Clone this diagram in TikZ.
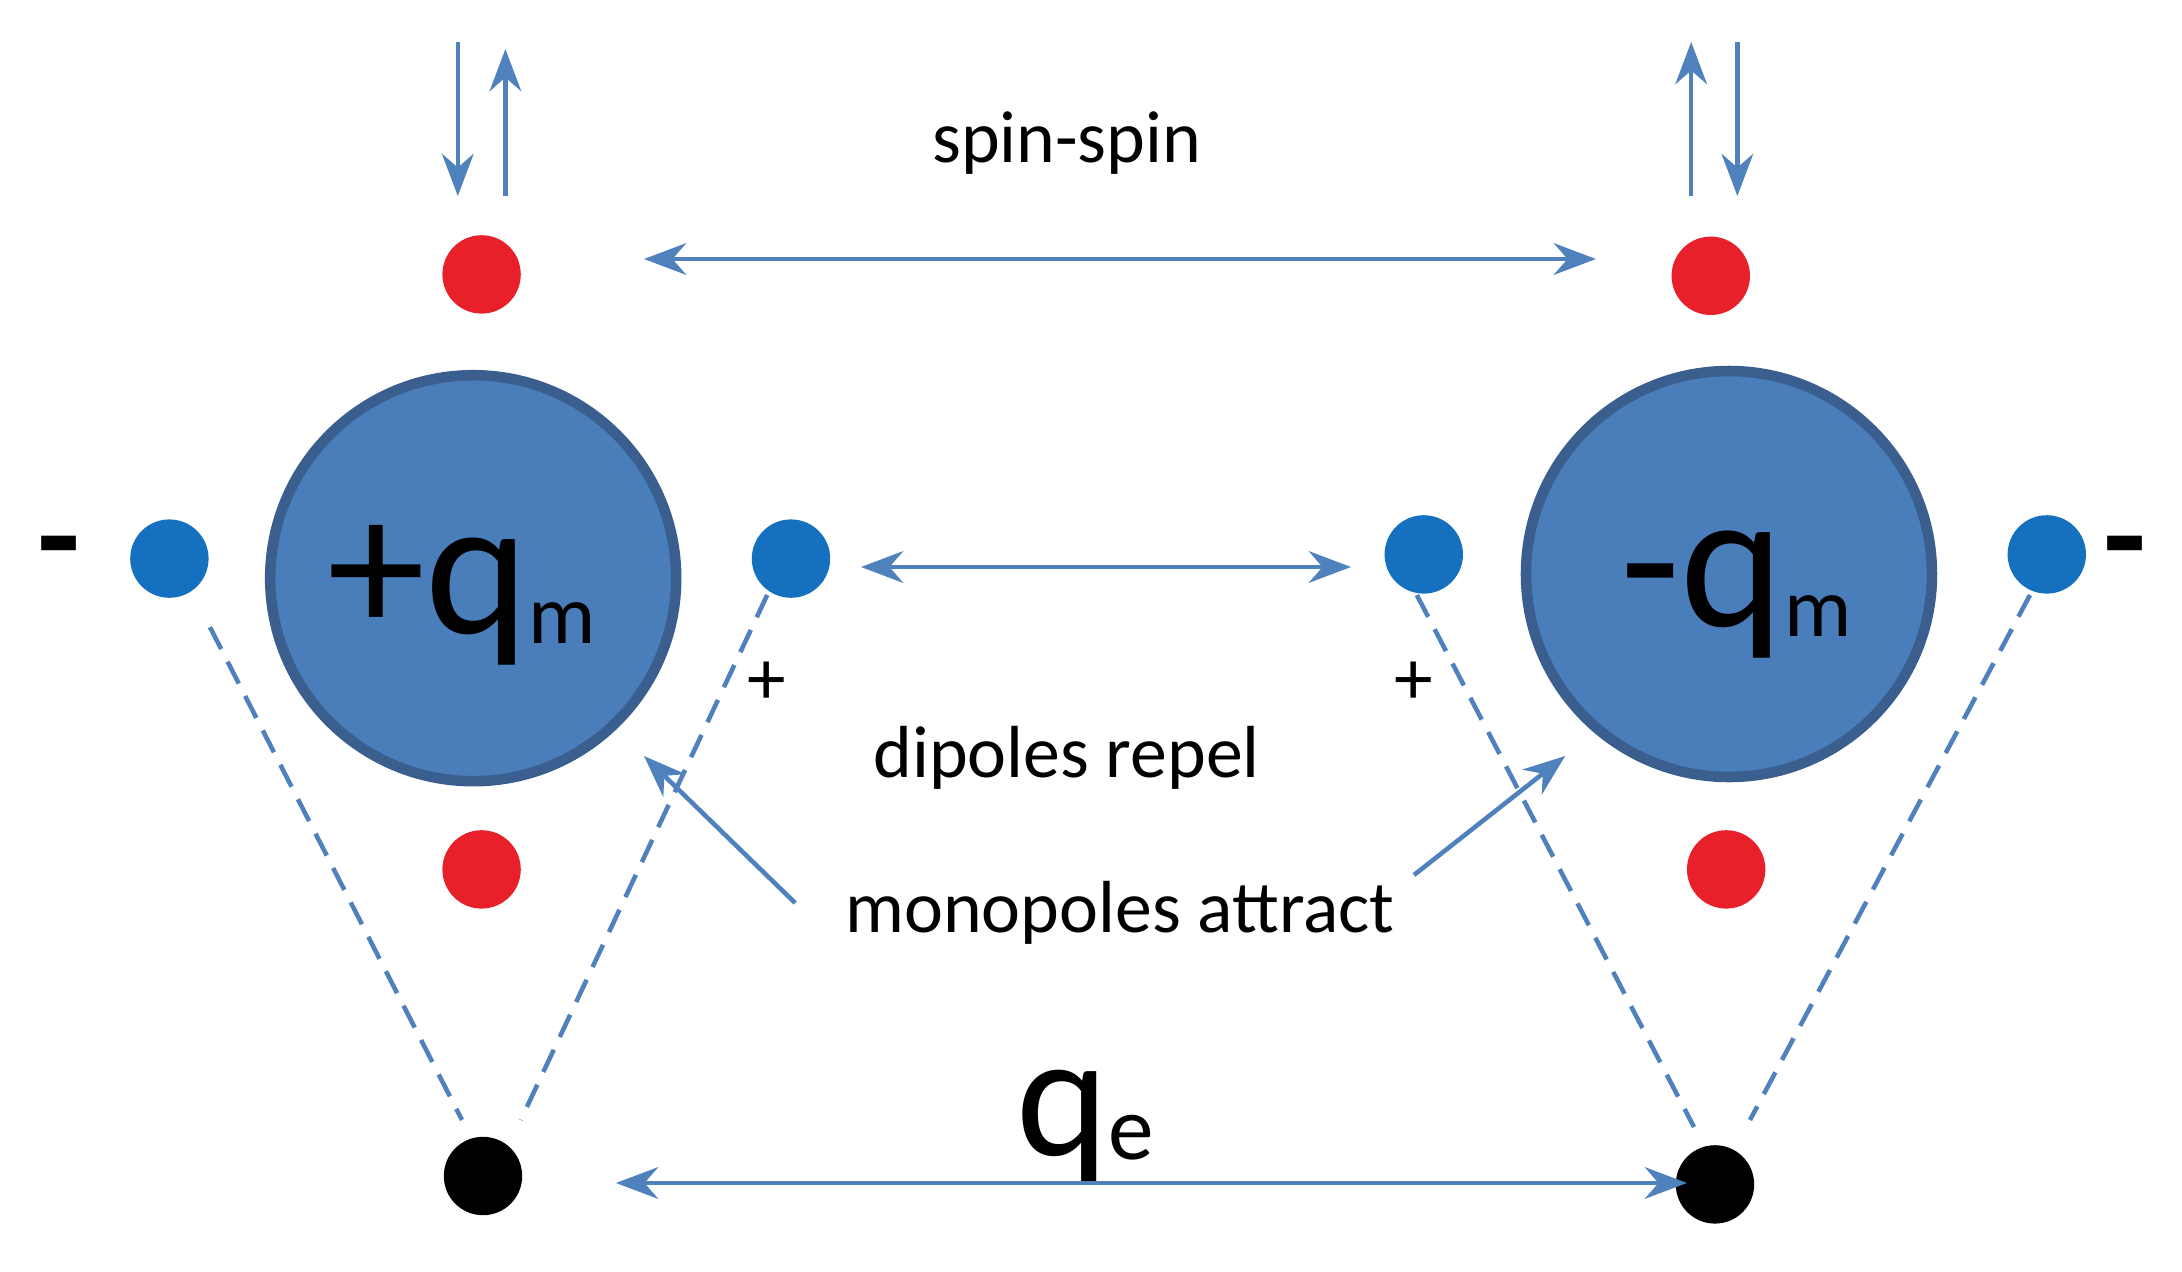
\documentclass[tikz,border=0pt]{standalone}
\usepackage{fontspec}
\setmainfont{Carlito}
\usetikzlibrary{arrows.meta}
\definecolor{bigc}{HTML}{4A7EBB}
\definecolor{bigb}{HTML}{3A5F8F}
\definecolor{ln}{HTML}{4F81BD}
\definecolor{rd}{HTML}{E8202A}
\definecolor{bl}{HTML}{1570C0}
\begin{document}
\begin{tikzpicture}[x=0.014cm,y=-0.014cm,
 big/.style={circle,fill=bigc,draw=bigb,line width=3pt,minimum size=290*0.014cm,inner sep=0},
 dot/.style={circle,fill=#1,minimum size=56*0.014cm,inner sep=0},
 arr/.style={draw=ln,line width=1.3pt,-{Stealth[length=12pt,width=9pt]}},
 darr/.style={draw=ln,line width=1.3pt,{Stealth[length=12pt,width=9pt]}-{Stealth[length=12pt,width=9pt]}},
 dsh/.style={draw=ln,line width=1.3pt,dashed,dash pattern=on 7pt off 4pt},
 lab/.style={font=\fontsize{21}{24}\selectfont,inner sep=0}]
\useasboundingbox (0,0) rectangle (1558.6,907.9);
\node[big] (L) at (338,413) {};
\node[big] (R) at (1235,410) {};
\node[font=\fontsize{56}{58}\selectfont,inner sep=0] (Lt) at (330,425) {+q\raisebox{-0.05em}{\fontsize{24}{26}\selectfont m}};
\node[font=\fontsize{56}{58}\selectfont,inner sep=0] (Rt) at (1240,425) {-q\raisebox{-0.05em}{\fontsize{24}{26}\selectfont m}};
\node[dot=rd] (r1) at (344,196) {};
\node[dot=rd] (r2) at (1222,197) {};
\node[dot=rd] (r3) at (344,621) {};
\node[dot=rd] (r4) at (1233,621) {};
\node[dot=bl] (b1) at (121,399) {};
\node[dot=bl] (b2) at (565,399) {};
\node[dot=bl] (b3) at (1017,396) {};
\node[dot=bl] (b4) at (1462,396) {};
\node[dot=black] (k1) at (345,840) {};
\node[dot=black] (k2) at (1225,846) {};
\coordinate (s1a) at (327,30); \coordinate (s1b) at (327,140);
\coordinate (s2a) at (361,140); \coordinate (s2b) at (361,35);
\coordinate (s3a) at (1208,140); \coordinate (s3b) at (1208,30);
\coordinate (s4a) at (1241,30); \coordinate (s4b) at (1241,140);
\draw[arr] (s1a) -- (s1b); \draw[arr] (s2a) -- (s2b);
\draw[arr] (s3a) -- (s3b); \draw[arr] (s4a) -- (s4b);
\node[lab] (ss) at (762,102) {spin-spin};
\coordinate (h1) at (460,185); \coordinate (h2) at (1140,185);
\draw[darr] (h1) -- (h2);
\coordinate (d1) at (615,405); \coordinate (d2) at (965,405);
\draw[darr] (d1) -- (d2);
\node[lab] (dr) at (762,541) {dipoles repel};
\node[lab] (ma) at (800,652) {monopoles attract};
\coordinate (m1) at (568,645); \coordinate (m1e) at (460,540);
\coordinate (m2) at (1010,625); \coordinate (m2e) at (1118,540);
\draw[arr] (m1) -- (m1e); \draw[arr] (m2) -- (m2e);
\coordinate (e1) at (150,448); \coordinate (e1e) at (330,800);
\coordinate (e2) at (548,425); \coordinate (e2e) at (372,800);
\coordinate (e3) at (1012,425); \coordinate (e3e) at (1210,805);
\coordinate (e4) at (1450,425); \coordinate (e4e) at (1250,800);
\draw[dsh] (e1) -- (e1e); \draw[dsh] (e2) -- (e2e);
\draw[dsh] (e3) -- (e3e); \draw[dsh] (e4) -- (e4e);
\node[font=\fontsize{40}{40}\selectfont\bfseries,inner sep=0] (m1s) at (42,400) {-};
\node[font=\fontsize{40}{40}\selectfont\bfseries,inner sep=0] (m2s) at (1518,400) {-};
\node[font=\fontsize{22}{24}\selectfont,inner sep=0] (p1) at (548,488) {+};
\node[font=\fontsize{22}{24}\selectfont,inner sep=0] (p2) at (1010,488) {+};
\node[font=\fontsize{50}{52}\selectfont,inner sep=0] (qe) at (775,805) {q\raisebox{-0.02em}{\fontsize{26}{28}\selectfont e}};
\coordinate (q1) at (440,845); \coordinate (q2) at (1205,845);
\draw[darr] (q1) -- (q2);
\end{tikzpicture}
\end{document}
